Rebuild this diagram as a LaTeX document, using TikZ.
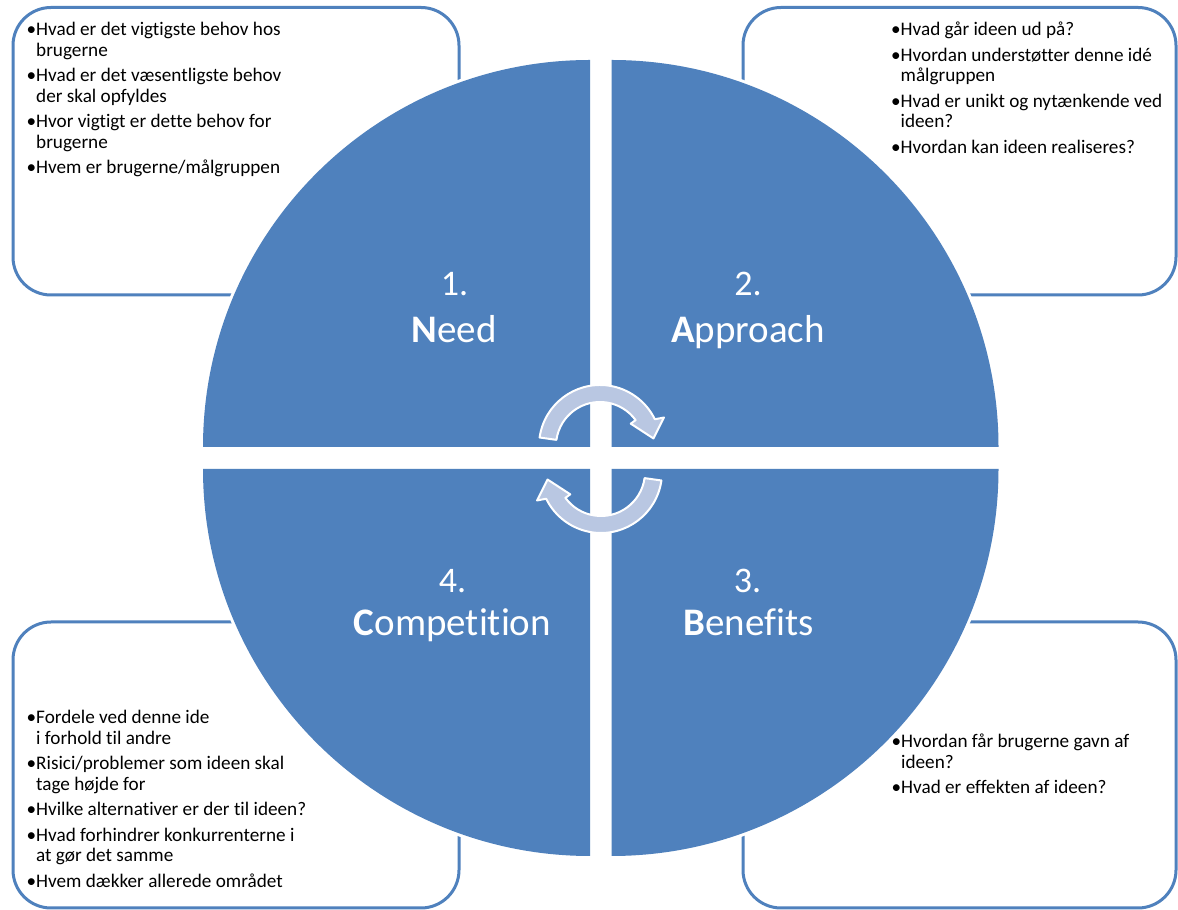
\documentclass[tikz,border=0pt]{standalone}
\usepackage{fontspec}
\setmainfont{Carlito}[Ligatures={NoCommon}]
\definecolor{qblue}{RGB}{79,129,189}
\definecolor{arrfill}{RGB}{185,199,226}
\newcommand\bul[1]{\par\noindent\hangindent=9.5pt\hangafter=1\makebox[9.5pt][l]{•}#1}
\newcommand\txtblock[1]{\parbox[t]{400pt}{\fontsize{19.2}{20.75}\selectfont\parskip=4.5pt\relax #1}}
\tikzset{
  box/.style={draw=qblue, line width=3pt, rounded corners=38pt, inner sep=0pt, fill=none},
  quad/.style={fill=qblue, preaction={draw=white, line width=6pt}},
  cyc/.style={fill=arrfill, draw=white, line width=2pt, line join=round},
  num/.style={text=white, font=\fontsize{36}{40}\selectfont, anchor=base, inner sep=0pt},
  word/.style={text=white, font=\fontsize{39}{44}\selectfont, anchor=base, inner sep=0pt},
  qtext/.style={anchor=base west, inner sep=0pt, text=black}
}
\begin{document}
\begin{tikzpicture}[x=1pt,y=1pt]
\useasboundingbox (0,0) rectangle (1178,910);
\fill[white] (0,0) rectangle (1178,910);
% boxes
\node[box, minimum width=446pt, minimum height=287.5pt] (bTL) at (236,758.75) {};
\node[box, minimum width=433pt, minimum height=287.5pt] (bTR) at (959.5,758.75) {};
\node[box, minimum width=446pt, minimum height=286pt] (bBL) at (236,145) {};
\node[box, minimum width=433pt, minimum height=286pt] (bBR) at (959.5,145) {};
% quadrants
\path[quad] (590,463) -- ++(-387,0) arc[start angle=180, end angle=90, radius=387] -- cycle;
\path[quad] (611.5,463) -- ++(0,387) arc[start angle=90, end angle=0, radius=387] -- cycle;
\path[quad] (611.5,441) -- ++(387,0) arc[start angle=0, end angle=-90, radius=387] -- cycle;
\path[quad] (590,441) -- ++(0,-387) arc[start angle=270, end angle=180, radius=387] -- cycle;
% cycle arrows
\begin{scope}[shift={(600,464)}]
\path[cyc] (172:61) arc[start angle=172, end angle=26, radius=61] -- (24:70) -- (8:54) -- (36:38) -- (36:44) arc[start angle=36, end angle=172, radius=44] -- cycle;
\end{scope}
\begin{scope}[shift={(601,438)}, rotate=180]
\path[cyc] (172:61) arc[start angle=172, end angle=26, radius=61] -- (24:70) -- (8:54) -- (36:38) -- (36:44) arc[start angle=36, end angle=172, radius=44] -- cycle;
\end{scope}
% labels
\node[num] (n1) at (454.5,614) {1.};
\node[word] (w1) at (454,567) {\textbf{N}eed};
\node[num] (n2) at (748,614) {2.};
\node[word] (w2) at (748,567) {\textbf{A}pproach};
\node[num] (n4) at (452.5,317) {4.};
\node[word] (w4) at (452.5,274) {\textbf{C}ompetition};
\node[num] (n3) at (747.5,317) {3.};
\node[word] (w3) at (748.5,274) {\textbf{B}enefits};
% texts
\node[qtext] (tTL) at (26.5,874) {\txtblock{%
\bul{Hvad er det vigtigste behov hos\newline brugerne}
\bul{Hvad er det væsentligste behov\newline der skal opfyldes}
\bul{Hvor vigtigt er dette behov for\newline brugerne}
\bul{Hvem er brugerne/målgruppen}}};
\node[qtext] (tTR) at (891,874) {\txtblock{%
\bul{Hvad går ideen ud på?}
\bul{Hvordan understøtter denne idé\newline målgruppen}
\bul{Hvad er unikt og nytænkende ved\newline ideen?}
\bul{Hvordan kan ideen realiseres?}}};
\node[qtext] (tBL) at (26.5,186) {\txtblock{%
\bul{Fordele ved denne ide\newline i forhold til andre}
\bul{Risici/problemer som ideen skal\newline tage højde for}
\bul{Hvilke alternativer er der til ideen?}
\bul{Hvad forhindrer konkurrenterne i\newline at gør det samme}
\bul{Hvem dækker allerede området}}};
\node[qtext] (tBR) at (891.5,162) {\txtblock{%
\bul{Hvordan får brugerne gavn af\newline ideen?}
\bul{Hvad er effekten af ideen?}}};
\end{tikzpicture}
\end{document}
